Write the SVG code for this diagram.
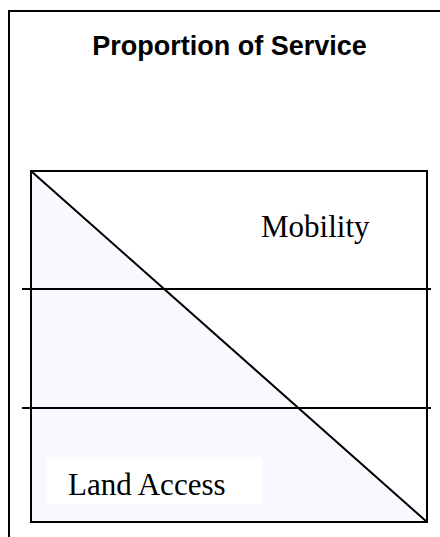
<svg xmlns="http://www.w3.org/2000/svg" width="440" height="537" viewBox="0 0 440 537">
<style>
.ln{stroke:#000;stroke-width:2;fill:none}
.serif{font-family:"Liberation Serif","Times New Roman",serif;font-size:31px;fill:#000}
.title{font-family:"Liberation Sans",Arial,sans-serif;font-size:27px;font-weight:bold;fill:#000}
</style>
<rect width="440" height="537" fill="#fff"/>
<g id="frame">
<path class="ln" d="M9,537 V11 H440"/>
</g>
<g id="title">
<text class="title" x="229.5" y="55" text-anchor="middle">Proportion of Service</text>
</g>
<g id="chart">
<rect x="31" y="171" width="396" height="351" fill="#fff"/>
<polygon points="31,171 427,522 31,522" fill="#F8F8FF"/>
</g>
<g id="connectors">
<line class="ln" x1="31" y1="171" x2="427" y2="522"/>
<line class="ln" x1="22" y1="289" x2="431" y2="289"/>
<line class="ln" x1="22" y1="408" x2="431" y2="408"/>
</g>
<g id="box">
<rect class="ln" x="31" y="171" width="396" height="351"/>
</g>
<g id="mobility">
<text class="serif" x="261" y="237">Mobility</text>
</g>
<g id="land-access">
<rect x="47" y="457" width="216" height="47" fill="#fff"/>
<text class="serif" x="68" y="495">Land Access</text>
</g>
</svg>
